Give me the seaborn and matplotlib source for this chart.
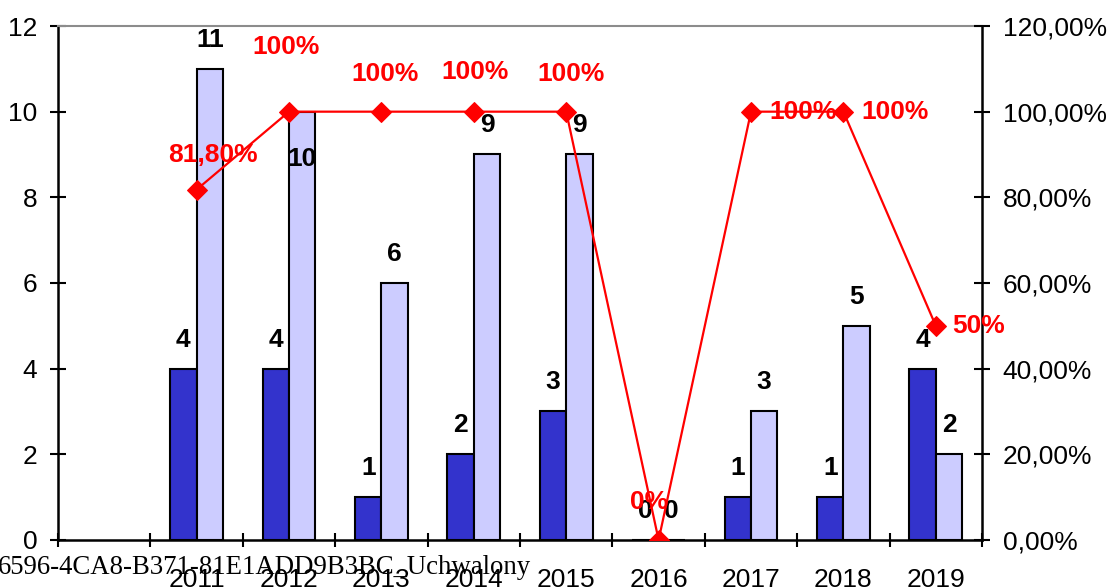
import numpy as np
import pandas as pd
import matplotlib
matplotlib.use("Agg")
import matplotlib.pyplot as plt
import seaborn as sns

# dane
kategorie = ["", "2011", "2012", "2013", "2014", "2015", "2016", "2017", "2018", "2019"]
lata = ["2011", "2012", "2013", "2014", "2015", "2016", "2017", "2018", "2019"]
seria_a = [4, 4, 1, 2, 3, 0, 1, 1, 4]
seria_b = [11, 10, 6, 9, 9, 0, 3, 5, 2]
udzial = [0.818, 1.0, 1.0, 1.0, 1.0, 0.0, 1.0, 1.0, 0.5]
udzial_etykiety = ["81,80%", "100%", "100%", "100%", "100%", "0%", "100%", "100%", "50%"]
podpis = "6596-4CA8-B371-81E1ADD9B3BC_Uchwalony"

df = pd.DataFrame({
    "rok": lata * 2,
    "seria": ["A"] * len(lata) + ["B"] * len(lata),
    "wartosc": seria_a + seria_b,
})

sns.set_theme(style="white")
plt.rcParams["font.family"] = ["Liberation Sans", "DejaVu Sans"]
FS = 19

fig = plt.figure(figsize=(11.09, 5.87), dpi=100)
ax = fig.add_axes([0.0523, 0.0801, 0.8332, 0.8756])

sns.barplot(data=df, x="rok", y="wartosc", hue="seria", order=kategorie,
            palette={"A": "#3333CC", "B": "#CCCCFF"}, width=0.57, saturation=1,
            edgecolor="black", linewidth=1.5, errorbar=None, legend=False, ax=ax)

# etykiety slupkow (w oryginale "10" dla 2012 siedzi wewnatrz slupka)
for cont, seria in zip(ax.containers, ["A", "B"]):
    for patch, rok in zip(cont.patches, lata):
        h = patch.get_height()
        off = -47 if (seria == "B" and rok == "2012") else 29
        ax.annotate(f"{int(h)}", (patch.get_x() + patch.get_width() / 2, h),
                    xytext=(0, off), textcoords="offset pixels",
                    ha="center", va="center", fontsize=FS, fontweight="bold",
                    color="black", zorder=5)

ax.set_ylim(0, 12)
ax.set_yticks(np.arange(0, 13, 2))
ax.set_xlim(-0.5, len(kategorie) - 0.5)
ax.set_xticks(range(len(kategorie)))
ax.set_xticklabels(kategorie)
ax.set_xticks(np.arange(-0.5, len(kategorie), 1), minor=True)
ax.set_xlabel("")
ax.set_ylabel("")
ax.tick_params(axis="x", which="major", length=0, pad=20, labelsize=FS, colors="black")
ax.tick_params(axis="x", which="minor", direction="inout", length=10, width=1.5,
               color="black", bottom=True)
ax.tick_params(axis="y", direction="inout", length=12, width=1.5, pad=9,
               labelsize=FS, left=True, colors="black")

for s in ["left", "bottom"]:
    ax.spines[s].set_color("black")
    ax.spines[s].set_linewidth(1.8)
ax.spines["top"].set_color("#8c8c8c")
ax.spines["top"].set_linewidth(1.5)
ax.spines["right"].set_visible(False)

# linia procentowa na drugiej osi
ax2 = ax.twinx()
xs = [kategorie.index(r) for r in lata]
sns.lineplot(x=xs, y=udzial, ax=ax2, color="red", marker="D", markersize=10,
             markeredgecolor="red", linewidth=1.6)
ax2.set_xlim(-0.5, len(kategorie) - 0.5)
ax2.set_ylim(0, 1.2)
ax2.set_yticks(np.arange(0, 1.21, 0.2))
ax2.set_yticklabels([f"{v * 100:.2f}%".replace(".", ",") for v in np.arange(0, 1.21, 0.2)])
ax2.tick_params(axis="y", direction="inout", length=12, width=1.5, pad=9,
                labelsize=FS, right=True, colors="black")
for s in ["left", "top", "bottom"]:
    ax2.spines[s].set_visible(False)
ax2.spines["right"].set_color("black")
ax2.spines["right"].set_linewidth(1.8)

# przesuniecia etykiet procentowych (px)
offs = [(16, 35), (-3, 65), (4, 38), (1, 40), (5, 38), (-10, 38), (52, 0), (52, 0), (43, 0)]
for x, y, lab, o in zip(xs, udzial, udzial_etykiety, offs):
    ax2.annotate(lab, (x, y), xytext=o, textcoords="offset pixels",
                 ha="center", va="center", fontsize=FS, fontweight="bold",
                 color="red", zorder=6)

fig.text(-0.002, 0.022, podpis, family=["Liberation Serif", "DejaVu Serif"],
         fontsize=19.3, va="baseline", ha="left", color="black")

fig.savefig("out.png", dpi=100)
